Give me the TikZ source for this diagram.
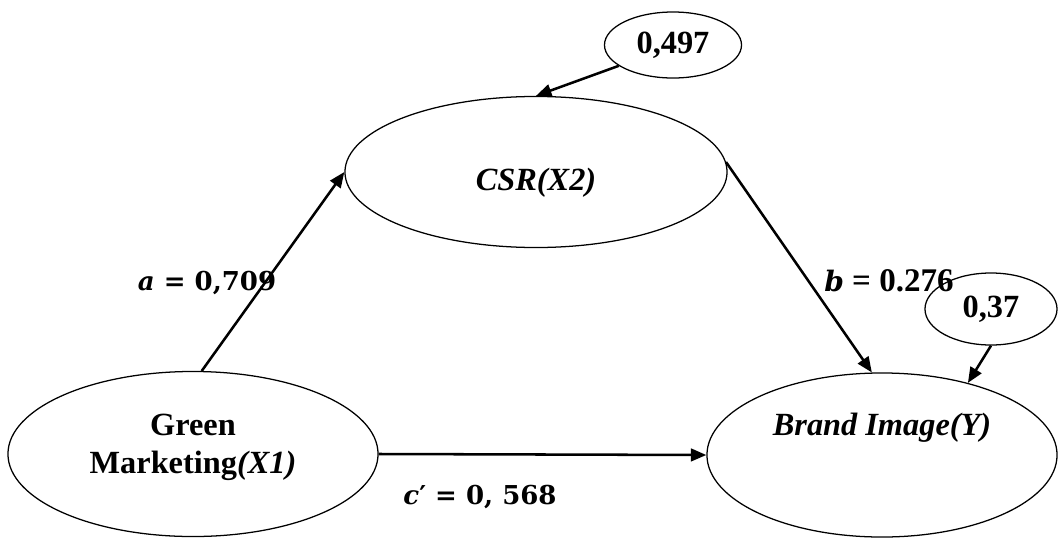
\documentclass[tikz,border=0pt]{standalone}
\usepackage{fontspec}
\setmainfont{Liberation Serif}
\newfontfamily\coeffont{DejaVu Serif}
\usetikzlibrary{shapes.geometric,arrows.meta}

\begin{document}
\begin{tikzpicture}[x=0.025cm, y=-0.025cm, line width=1.8pt,
		main/.style = {draw, ellipse, line width=0.9pt, inner sep=0pt},
		txt/.style = {font=\fontsize{23}{27}\selectfont\bfseries, align=center},
		coef/.style = {font=\fontsize{18.5}{22}\selectfont\coeffont\bfseries},
		>={Triangle[length=11pt,width=9pt]}]
		\useasboundingbox (0,0) rectangle (1060,540);
		%Latent variables
		\node[main, minimum width=9.25cm, minimum height=4.125cm,
			label={[txt, yshift=0.175cm]center:Green\\Marketing\textit{(X1)}}] (1) at (193,454) {};
		\node[main, minimum width=9.55cm, minimum height=3.775cm,
			label={[txt, yshift=-0.275cm]center:\textit{CSR(X2)}}] (2) at (536,172) {};
		\node[main, minimum width=8.75cm, minimum height=4.1cm,
			label={[txt, yshift=0.675cm]center:\textit{Brand Image(Y)}}] (3) at (882,455) {};
		%Error terms
		\node[main, txt, minimum width=3.425cm, minimum height=1.65cm] (4) at (673,45) {0,497};
		\node[main, txt, minimum width=3.3cm, minimum height=1.8cm] (5) at (991,309) {0,37};
		
		%Paths
		\path [->] (1.84) edge (2.west); 	%Path X1 -> X2
		\path [->] (2.3) edge (3.97); 	%Path X2 -> Y
		\path [->] (1.east) edge (3.west); 	%Path X1 -> Y
		\path [->] (4.201) edge (2.north); 	%Error X2
		\path [->] (5.south) edge (3.40); 	%Error Y
		
		%Coefficients
		\node[coef] (6) at (207,283) {\textit{a} = 0,709}; %a
		\node[txt, font=\fontsize{23.5}{26}\selectfont\bfseries] (7) at (889,281) {{\coeffont\fontsize{20}{22}\selectfont\textit{b}} = 0.276}; %b
		\node[coef] (8) at (480,497) {\textit{c}′ = 0, 568}; %c'
	\end{tikzpicture}
\end{document}
